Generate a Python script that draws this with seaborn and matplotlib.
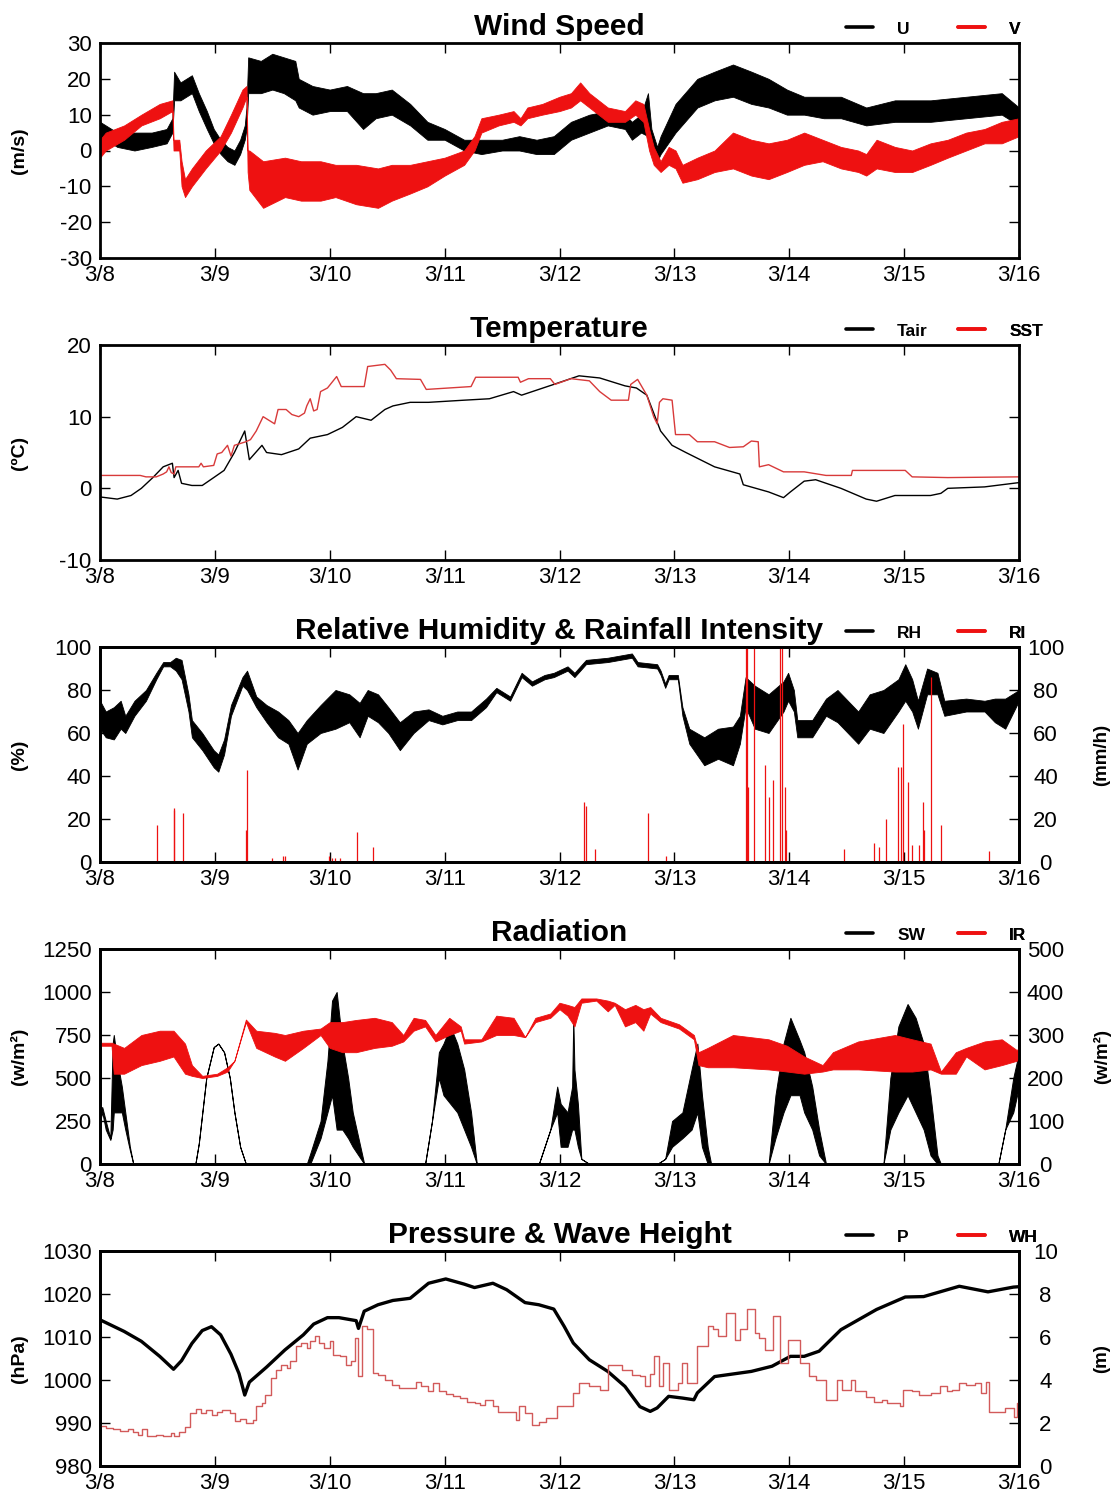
import numpy as np
import matplotlib
matplotlib.use("Agg")
import matplotlib.pyplot as plt
from matplotlib.lines import Line2D
import seaborn as sns

# ---------------- data (time in days since 3/8 00:00) ----------------
day_labels = ["3/8", "3/9", "3/10", "3/11", "3/12", "3/13", "3/14", "3/15", "3/16"]

# Wind speed components: lower / upper envelope of the 1-Hz record (m/s)
U_t = [0, 0.05, 0.15, 0.3, 0.45, 0.58, 0.63, 0.645, 0.7, 0.8,
       0.86, 0.93, 0.99, 1.05, 1.11, 1.17, 1.22, 1.26, 1.275, 1.29,
       1.4, 1.5, 1.6, 1.7, 1.73, 1.85, 2.0, 2.15, 2.29, 2.4,
       2.54, 2.70, 2.85, 3.0, 3.17, 3.32, 3.5, 3.65, 3.8, 3.95,
       4.10, 4.26, 4.42, 4.57, 4.63, 4.71, 4.77, 4.80, 4.85, 4.88,
       5.01, 5.2, 5.35, 5.51, 5.67, 5.82, 5.98, 6.13, 6.3, 6.45,
       6.67, 6.92, 7.23, 7.54, 7.85, 8.0]
U_lo = [2, 3, 1, 0, 1, 2, 5, 14, 14, 16,
        11, 6, 2, -1, -3, -4, -1, 3, 6, 16,
        16, 17, 16, 14, 12, 10, 11, 11, 6, 9,
        10, 7, 3, 3, 0, -1, 0, 0, -1, -1,
        3, 5, 7, 6, 3, 5, 4, 0, -3, -1,
        5, 12, 14, 15, 13, 12, 10, 10, 9, 9,
        7, 8, 8, 9, 10, 7]
U_hi = [8, 7, 5, 5, 5, 6, 9, 22, 19, 21,
        16, 11, 6, 3, 1, 0, 3, 7, 12, 26,
        25, 27, 26, 25, 20, 18, 17, 18, 16, 16,
        17, 13, 8, 6, 3, 3, 3, 4, 3, 4,
        8, 10, 11, 10, 8, 10, 16, 6, 1, 4,
        13, 20, 22, 24, 22, 20, 17, 15, 15, 15,
        12, 14, 14, 15, 16, 12]

V_t = [0, 0.05, 0.21, 0.36, 0.52, 0.63, 0.64, 0.69, 0.71, 0.74,
       0.80, 0.92, 1.05, 1.14, 1.24, 1.275, 1.285, 1.30, 1.42, 1.61,
       1.75, 1.92, 2.05, 2.23, 2.42, 2.54, 2.70, 2.85, 3.0, 3.17,
       3.26, 3.32, 3.47, 3.60, 3.66, 3.72, 3.85, 4.0, 4.10, 4.18,
       4.26, 4.42, 4.57, 4.66, 4.73, 4.78, 4.82, 4.88, 4.95, 5.01,
       5.07, 5.2, 5.35, 5.51, 5.67, 5.82, 5.98, 6.13, 6.29, 6.45,
       6.6, 6.67, 6.76, 6.92, 7.07, 7.23, 7.38, 7.54, 7.70, 7.85,
       8.0]
V_lo = [-2, 0, 3, 7, 9, 11, 0, 0, -10, -13,
        -10, -5, 0, 5, 12, 15, -6, -11, -16, -13,
        -14, -14, -13, -15, -16, -14, -12, -10, -7, -4,
        0, 5, 7, 8, 7, 9, 10, 11, 12, 14,
        12, 8, 8, 10, 8, 0, -4, -6, -4, -5,
        -9, -8, -6, -5, -7, -8, -6, -4, -3, -5,
        -6, -7, -5, -6, -6, -4, -2, 0, 2, 2,
        4]
V_hi = [3, 5, 7, 10, 13, 14, 3, 3, -3, -8,
        -5, 0, 4, 10, 17, 18, 0, 0, -3, -2,
        -3, -3, -4, -4, -5, -4, -4, -3, -2, 0,
        4, 9, 10, 11, 9, 12, 13, 15, 16, 19,
        16, 12, 11, 14, 13, 6, 1, -3, 1, 0,
        -4, -2, 0, 5, 3, 2, 3, 5, 3, 1,
        0, -1, 3, 1, 0, 2, 3, 5, 6, 8,
        9]

# Temperature (deg C)
Tair_t = [0, 0.15, 0.27, 0.36, 0.46, 0.55, 0.63, 0.645, 0.68, 0.71,
          0.80, 0.89, 0.99, 1.08, 1.17, 1.26, 1.28, 1.30, 1.41, 1.45,
          1.58, 1.73, 1.83, 1.98, 2.11, 2.23, 2.36, 2.48, 2.55, 2.70,
          2.86, 3.17, 3.39, 3.6, 3.67, 3.95, 4.17, 4.35, 4.57, 4.67,
          4.76, 4.82, 4.88, 4.98, 5.1, 5.35, 5.57, 5.6, 5.82, 5.95,
          6.01, 6.13, 6.23, 6.45, 6.67, 6.76, 6.92, 7.07, 7.23, 7.32,
          7.38, 7.70, 8.0]
Tair_v = [-1.2, -1.5, -1.0, 0, 1.5, 3, 3.5, 1.5, 2.5, 0.7,
          0.4, 0.4, 1.5, 2.5, 5, 8, 6, 4, 6, 5,
          4.7, 5.5, 7, 7.5, 8.5, 10, 9.5, 11, 11.5, 12,
          12, 12.3, 12.5, 13.5, 13, 14.5, 15.7, 15.4, 14.3, 14,
          13, 10.5, 8, 6, 5, 3, 2, 0.5, -0.5, -1.3,
          -0.5, 1, 1.2, 0, -1.5, -1.8, -1, -1, -1, -0.7,
          0, 0.2, 0.8]

SST_t = [0, 0.35, 0.40, 0.49, 0.55, 0.58, 0.60, 0.62, 0.645, 0.66,
         0.86, 0.88, 0.90, 0.99, 1.02, 1.06, 1.11, 1.14, 1.17, 1.27,
         1.31, 1.36, 1.42, 1.47, 1.52, 1.55, 1.62, 1.67, 1.73, 1.78,
         1.80, 1.83, 1.86, 1.89, 1.92, 1.98, 2.03, 2.06, 2.10, 2.30,
         2.33, 2.48, 2.53, 2.58, 2.79, 2.84, 3.23, 3.27, 3.64, 3.66,
         3.73, 3.92, 3.96, 4.10, 4.26, 4.35, 4.45, 4.60, 4.62, 4.68,
         4.76, 4.82, 4.85, 4.87, 4.90, 4.98, 5.01, 5.13, 5.20, 5.35,
         5.48, 5.60, 5.67, 5.73, 5.74, 5.82, 5.95, 6.13, 6.32, 6.54,
         6.55, 7.01, 7.07, 7.38, 8.0]
SST_v = [1.8, 1.8, 1.6, 1.6, 2.0, 2.3, 3.0, 2.2, 2.0, 3.0,
         3.0, 3.5, 3.0, 3.2, 4.8, 5.0, 6.0, 4.5, 6.0, 6.5,
         6.8, 8.0, 10.0, 9.5, 9.0, 11.0, 11.0, 10.3, 10.0, 10.5,
         11.5, 12.5, 10.8, 11.0, 13.5, 14.0, 15.0, 15.6, 14.2, 14.2,
         17.0, 17.3, 16.5, 15.3, 15.2, 13.8, 14.2, 15.5, 15.5, 14.8,
         15.3, 15.3, 14.5, 15.3, 15.0, 13.5, 12.3, 12.3, 14.5, 15.2,
         13.0, 10.0, 9.0, 12.0, 12.5, 12.3, 7.5, 7.5, 6.5, 6.5,
         5.7, 5.8, 6.6, 6.5, 3.0, 3.3, 2.3, 2.3, 1.8, 1.8,
         2.5, 2.5, 1.6, 1.5, 1.6]

# Relative humidity envelope (%)
RH_t = [0, 0.05, 0.12, 0.18, 0.22, 0.30, 0.40, 0.49, 0.55, 0.61,
        0.66, 0.71, 0.77, 0.80, 0.89, 0.99, 1.03, 1.08, 1.14, 1.24,
        1.28, 1.36, 1.45, 1.55, 1.64, 1.72, 1.80, 1.92, 2.05, 2.17,
        2.26, 2.33, 2.42, 2.51, 2.61, 2.73, 2.86, 2.98, 3.11, 3.23,
        3.36, 3.45, 3.57, 3.67, 3.76, 3.87, 3.95, 4.07, 4.13, 4.23,
        4.42, 4.63, 4.68, 4.85, 4.88, 4.92, 4.95, 5.03, 5.07, 5.13,
        5.26, 5.38, 5.51, 5.57, 5.62, 5.70, 5.82, 5.95, 5.99, 6.04,
        6.07, 6.20, 6.32, 6.42, 6.51, 6.60, 6.70, 6.82, 6.95, 7.01,
        7.07, 7.12, 7.20, 7.29, 7.35, 7.54, 7.70, 7.79, 7.88, 8.0]
RH_lo = [62, 58, 57, 62, 60, 68, 75, 85, 91, 91,
         89, 85, 70, 58, 52, 44, 42, 50, 68, 82,
         80, 72, 65, 58, 55, 43, 55, 60, 62, 65,
         58, 68, 65, 60, 52, 60, 66, 64, 66, 66,
         72, 79, 75, 86, 82, 85, 86, 89, 86, 92,
         93, 95, 91, 90, 87, 81, 85, 85, 68, 55,
         45, 48, 45, 55, 72, 62, 60, 70, 75, 70,
         58, 58, 68, 65, 60, 55, 62, 60, 70, 75,
         70, 62, 78, 78, 68, 70, 70, 65, 62, 75]
RH_hi = [75, 70, 72, 75, 68, 75, 80, 88, 93, 93,
         95, 94, 78, 66, 60, 52, 50, 57, 73, 86,
         89, 77, 73, 70, 66, 60, 66, 73, 80, 78,
         74, 80, 78, 72, 65, 70, 71, 68, 70, 70,
         76, 81, 77, 88, 84, 87, 88, 91, 88, 94,
         95, 97, 93, 92, 89, 83, 87, 87, 72, 62,
         58, 62, 63, 68, 86, 82, 78, 84, 88, 80,
         66, 66, 76, 80, 75, 70, 78, 80, 85, 92,
         85, 75, 90, 88, 75, 76, 75, 76, 76, 80]

# Rainfall intensity events (mm/h)
RI_t = [0.50, 0.64, 0.645, 0.72, 1.27, 1.28, 1.50, 1.59, 1.61, 1.99,
        2.02, 2.05, 2.09, 2.24, 2.38, 4.21, 4.23, 4.31, 4.77, 4.93,
        5.62, 5.63, 5.64, 5.69, 5.79, 5.82, 5.86, 5.92, 5.94, 5.96,
        5.97, 6.48, 6.74, 6.78, 6.84, 6.95, 6.97, 6.99, 7.03, 7.07,
        7.13, 7.16, 7.17, 7.23, 7.32, 7.74]
RI_v = [17, 24, 25, 23, 15, 43, 2, 3, 3, 3,
        2, 2, 2, 14, 7, 28, 26, 6, 23, 3,
        100, 100, 35, 100, 45, 30, 38, 100, 100, 35,
        15, 6, 9, 7, 20, 44, 44, 64, 37, 8,
        8, 28, 15, 86, 17, 5]

# Shortwave radiation envelope (W/m2)
SW_t = [0, 0.02, 0.05, 0.09, 0.11, 0.12, 0.15, 0.19, 0.22, 0.26,
        0.29, 0.83, 0.86, 0.925, 0.99, 1.03, 1.08, 1.13, 1.17, 1.22,
        1.27, 1.80, 1.83, 1.92, 1.98, 2.02, 2.06, 2.11, 2.16, 2.20,
        2.25, 2.30, 2.83, 2.89, 2.95, 2.99, 3.05, 3.11, 3.17, 3.23,
        3.28, 3.82, 3.92, 3.98, 4.01, 4.07, 4.11, 4.12, 4.13, 4.16,
        4.19, 4.26, 4.85, 4.92, 4.98, 5.07, 5.15, 5.20, 5.24, 5.29,
        5.32, 5.82, 5.88, 5.95, 6.01, 6.09, 6.13, 6.20, 6.26, 6.32,
        6.82, 6.88, 6.95, 7.03, 7.10, 7.17, 7.23, 7.29, 7.32, 7.82,
        7.88, 7.95, 8.0]
SW_lo = [250, 300, 200, 140, 200, 300, 300, 300, 200, 80,
         0, 0, 120, 500, 680, 700, 650, 500, 300, 100,
         0, 0, 0, 150, 300, 400, 200, 200, 150, 100,
         50, 0, 0, 250, 500, 400, 350, 300, 200, 100,
         0, 0, 200, 300, 100, 100, 200, 200, 200, 100,
         30, 0, 0, 30, 100, 150, 200, 300, 100, 0,
         0, 0, 150, 300, 400, 400, 300, 200, 50, 0,
         0, 200, 300, 400, 300, 200, 50, 0, 0, 0,
         200, 300, 450]
SW_hi = [330, 330, 250, 150, 700, 750, 600, 450, 300, 100,
         0, 0, 120, 500, 680, 700, 650, 500, 300, 100,
         0, 0, 60, 250, 600, 950, 1000, 700, 500, 300,
         150, 0, 0, 250, 650, 700, 800, 700, 550, 300,
         0, 0, 200, 450, 350, 300, 450, 850, 550, 350,
         30, 0, 0, 30, 250, 300, 550, 700, 400, 100,
         0, 0, 400, 700, 850, 720, 650, 450, 200, 0,
         0, 500, 800, 930, 850, 700, 400, 50, 0, 0,
         200, 500, 650]

# Longwave (IR) radiation envelope (W/m2)
IR_t = [0, 0.10, 0.12, 0.21, 0.36, 0.52, 0.64, 0.74, 0.80, 0.89,
        1.02, 1.11, 1.17, 1.27, 1.36, 1.52, 1.61, 1.77, 1.92, 2.0,
        2.11, 2.23, 2.39, 2.54, 2.64, 2.73, 2.83, 2.92, 3.04, 3.14,
        3.17, 3.32, 3.45, 3.60, 3.70, 3.79, 3.92, 4.0, 4.07, 4.13,
        4.19, 4.32, 4.42, 4.48, 4.57, 4.66, 4.73, 4.79, 4.88, 5.04,
        5.17, 5.21, 5.29, 5.51, 5.82, 5.98, 6.13, 6.29, 6.38, 6.60,
        6.92, 7.07, 7.23, 7.32, 7.45, 7.54, 7.70, 7.85, 7.98, 8.0]
IR_lo = [275, 275, 210, 210, 230, 240, 250, 210, 205, 200,
         205, 215, 240, 330, 270, 250, 240, 270, 300, 270,
         260, 260, 270, 275, 285, 310, 320, 285, 300, 310,
         280, 285, 300, 300, 295, 330, 340, 360, 345, 320,
         375, 380, 355, 370, 320, 330, 310, 350, 330, 315,
         290, 230, 225, 225, 220, 215, 210, 215, 220, 220,
         215, 215, 220, 210, 210, 250, 220, 230, 240, 250]
IR_hi = [282, 282, 280, 270, 300, 310, 310, 280, 230, 205,
         210, 225, 240, 336, 310, 305, 300, 310, 315, 330,
         330, 335, 340, 330, 300, 340, 335, 300, 340, 320,
         290, 290, 345, 340, 295, 340, 350, 375, 370, 365,
         385, 385, 380, 375, 360, 370, 360, 365, 340, 325,
         300, 260, 270, 300, 290, 275, 250, 230, 260, 285,
         300, 290, 280, 215, 260, 270, 285, 290, 265, 270]

# Sea-level pressure (hPa)
P_t = [0, 0.21, 0.36, 0.52, 0.64, 0.71, 0.80, 0.89, 0.97, 1.05,
       1.14, 1.21, 1.26, 1.30, 1.45, 1.61, 1.77, 1.86, 1.98, 2.08,
       2.23, 2.25, 2.30, 2.42, 2.55, 2.70, 2.86, 3.01, 3.17, 3.26,
       3.42, 3.54, 3.70, 3.82, 3.95, 4.04, 4.12, 4.26, 4.42, 4.57,
       4.70, 4.79, 4.85, 4.95, 5.07, 5.17, 5.20, 5.35, 5.67, 5.85,
       6.01, 6.13, 6.26, 6.45, 6.76, 7.01, 7.17, 7.48, 7.73, 7.95,
       8.0]
P_v = [1014, 1011.3, 1009, 1005.5, 1002.5, 1004.5, 1008.5, 1011.5, 1012.4, 1010.5,
       1006, 1001.5, 996.5, 999.5, 1003, 1007, 1010.5, 1013, 1014.5, 1014.5,
       1013.8, 1012, 1016, 1017.5, 1018.5, 1019, 1022.5, 1023.5, 1022.3, 1021.5,
       1022.5, 1021, 1018, 1017.5, 1016.5, 1012.5, 1008.6, 1004.7, 1002, 998.5,
       993.8, 992.7, 993.5, 996.2, 995.8, 995.4, 997, 1000.8, 1002, 1003.2,
       1005.5, 1005.5, 1006.7, 1011.7, 1016.4, 1019.3, 1019.4, 1021.8, 1020.5, 1021.6,
       1021.7]

# Significant wave height (m), step record
WH_t = [0.0, 0.053, 0.115, 0.178, 0.24, 0.287, 0.333, 0.364, 0.411, 0.489,
        0.551, 0.614, 0.645, 0.692, 0.738, 0.785, 0.832, 0.879, 0.925, 0.972,
        1.019, 1.065, 1.128, 1.174, 1.221, 1.268, 1.330, 1.361, 1.408, 1.439,
        1.486, 1.533, 1.579, 1.626, 1.657, 1.704, 1.751, 1.798, 1.829, 1.875,
        1.907, 1.953, 2.0, 2.031, 2.093, 2.140, 2.187, 2.218, 2.249, 2.280,
        2.327, 2.374, 2.421, 2.483, 2.545, 2.607, 2.748, 2.794, 2.857, 2.903,
        2.950, 3.012, 3.075, 3.137, 3.199, 3.262, 3.308, 3.355, 3.417, 3.464,
        3.542, 3.620, 3.651, 3.698, 3.760, 3.822, 3.885, 3.978, 4.12, 4.17,
        4.26, 4.35, 4.42, 4.54, 4.63, 4.70, 4.74, 4.79, 4.82, 4.87,
        4.90, 4.95, 5.03, 5.07, 5.11, 5.20, 5.29, 5.34, 5.38, 5.45,
        5.53, 5.57, 5.63, 5.70, 5.74, 5.79, 5.86, 5.92, 5.99, 6.09,
        6.17, 6.23, 6.32, 6.42, 6.46, 6.54, 6.57, 6.67, 6.74, 6.81,
        6.85, 6.96, 6.99, 7.07, 7.13, 7.23, 7.31, 7.37, 7.42, 7.48,
        7.54, 7.62, 7.67, 7.71, 7.74, 7.88, 7.96, 7.98, 8.0]
WH_v = [1.84, 1.76, 1.7, 1.65, 1.72, 1.56, 1.45, 1.7, 1.4, 1.45,
        1.4, 1.52, 1.4, 1.6, 1.8, 2.46, 2.64, 2.46, 2.6, 2.38,
        2.49, 2.6, 2.46, 2.1, 2.18, 2.0, 2.15, 2.77, 2.95, 3.3,
        4.1, 4.48, 4.7, 4.56, 4.87, 5.57, 5.72, 5.5, 5.8, 6.03,
        5.72, 5.5, 5.8, 5.18, 5.1, 4.7, 4.87, 5.96, 4.17, 6.5,
        6.35, 4.32, 4.25, 4.0, 3.78, 3.62, 3.89, 3.7, 3.47, 3.86,
        3.47, 3.36, 3.27, 3.16, 3.0, 2.92, 2.85, 3.08, 2.77, 2.49,
        2.53, 2.15, 2.77, 2.46, 1.91, 2.05, 2.22, 2.77, 3.4, 3.86,
        3.7, 3.55, 4.7, 4.48, 4.25, 4.17, 3.7, 4.3, 5.1, 3.7,
        4.79, 3.55, 3.86, 4.79, 3.86, 5.57, 6.5, 6.35, 6.03, 7.1,
        5.88, 6.35, 7.28, 6.2, 5.96, 5.4, 6.97, 4.79, 5.88, 4.79,
        4.17, 4.0, 3.08, 4.0, 3.55, 4.0, 3.47, 3.23, 3.0, 3.08,
        2.92, 2.77, 3.55, 3.47, 3.3, 3.4, 3.7, 3.47, 3.55, 3.86,
        3.78, 3.86, 3.39, 3.93, 2.53, 2.69, 2.3, 2.92, 2.92]

# ---------------- styling ----------------
sns.set_theme(style="ticks")
plt.rcParams["font.family"] = ["Liberation Sans", "DejaVu Sans"]
plt.rcParams.update({
    "axes.edgecolor": "black",
    "xtick.color": "black",
    "ytick.color": "black",
    "text.color": "black",
    "axes.labelcolor": "black",
    "axes.unicode_minus": False,
})

BLACK = "black"
RED = "#ee1111"
SST_RED = "#d83a3a"
WH_RED = "#d25a5a"

W, H = 1115, 1497
LEFT, RIGHT = 100, 1019
TOPS = [43, 345, 647, 949, 1251]
AXH = 215

fig = plt.figure(figsize=(W / 100, H / 100), dpi=100)
fig.patch.set_facecolor("white")


def make_axes(top):
    ax = fig.add_axes([LEFT / W, 1 - (top + AXH) / H, (RIGHT - LEFT) / W, AXH / H])
    ax.set_xlim(0, 8)
    ax.set_xticks(range(9))
    ax.set_xticklabels(day_labels)
    ax.tick_params(axis="both", direction="in", length=7, width=1.0,
                   top=True, right=True, labelsize=16, pad=5)
    ax.tick_params(axis="y", pad=6)
    for sp in ax.spines.values():
        sp.set_linewidth(2)
    return ax


def make_twin(ax, ylim, ticks, label):
    ax.tick_params(axis="y", right=False)
    ax2 = ax.twinx()
    ax2.set_ylim(*ylim)
    ax2.set_yticks(ticks)
    ax2.tick_params(axis="y", direction="in", length=7, width=1.0,
                    labelsize=16, pad=19)
    for lab in ax2.get_yticklabels():
        lab.set_horizontalalignment("center")
    for sp in ax2.spines.values():
        sp.set_linewidth(2)
    ax2.set_ylabel(label, fontsize=13.5, fontweight="bold")
    ax2.yaxis.set_label_coords(1.0805, 0.5)
    return ax2


def header(ax, title, ylabel, labels):
    ax.set_title(title, fontsize=21.5, fontweight="bold", pad=6)
    ax.set_ylabel(ylabel, fontsize=14, fontweight="bold")
    ax.yaxis.set_label_coords(-0.078, 0.5)
    for lab, col, xpx in zip(labels, (BLACK, RED), (846, 958)):
        handle = Line2D([], [], color=col, lw=2.6)
        leg = ax.legend([handle], [lab], loc="lower left",
                        bbox_to_anchor=((xpx - LEFT) / (RIGHT - LEFT), 1.03),
                        frameon=False, borderpad=0, borderaxespad=0,
                        handlelength=1.55, handletextpad=1.4,
                        prop={"weight": "bold", "size": 12.5})
        ax.add_artist(leg)


# ---- Wind speed ----
ax1 = make_axes(TOPS[0])
ax1.fill_between(U_t, U_lo, U_hi, color=BLACK, lw=0.6)
ax1.fill_between(V_t, V_lo, V_hi, color=RED, lw=0.6)
ax1.set_ylim(-30, 30)
ax1.set_yticks(range(-30, 31, 10))
header(ax1, "Wind Speed", "(m/s)", ["U", "V"])

# ---- Temperature ----
ax2 = make_axes(TOPS[1])
sns.lineplot(x=Tair_t, y=Tair_v, ax=ax2, color=BLACK, lw=1.0, estimator=None)
sns.lineplot(x=SST_t, y=SST_v, ax=ax2, color=SST_RED, lw=1.0, estimator=None)
ax2.set_ylim(-10, 20)
ax2.set_yticks(range(-10, 21, 10))
header(ax2, "Temperature", "(\u00baC)", ["Tair", "SST"])

# ---- Relative humidity & rainfall ----
ax3 = make_axes(TOPS[2])
ax3.fill_between(RH_t, RH_lo, RH_hi, color=BLACK, lw=0.6)
ax3.set_ylim(0, 100)
ax3.set_yticks(range(0, 101, 20))
ax3r = make_twin(ax3, (0, 100), range(0, 101, 20), "(mm/h)")
ax3r.vlines(RI_t, 0, RI_v, color=RED, lw=0.9)
header(ax3, "Relative Humidity & Rainfall Intensity", "(%)", ["RH", "RI"])

# ---- Radiation ----
ax4 = make_axes(TOPS[3])
ax4.fill_between(SW_t, SW_lo, SW_hi, color=BLACK, lw=0.7)
ax4.set_ylim(0, 1250)
ax4.set_yticks(range(0, 1251, 250))
ax4r = make_twin(ax4, (0, 500), range(0, 501, 100), "(w/m\u00b2)")
ax4r.fill_between(IR_t, IR_lo, IR_hi, color=RED, lw=0.6)
header(ax4, "Radiation", "(w/m\u00b2)", ["SW", "IR"])

# ---- Pressure & wave height ----
ax5 = make_axes(TOPS[4])
ax5r = make_twin(ax5, (0, 10), range(0, 11, 2), "(m)")
sns.lineplot(x=WH_t, y=WH_v, ax=ax5r, color=WH_RED, lw=1.0,
             drawstyle="steps-post", estimator=None)
sns.lineplot(x=P_t, y=P_v, ax=ax5, color=BLACK, lw=2.4, estimator=None)
ax5.set_ylim(980, 1030)
ax5.set_yticks(range(980, 1031, 10))
header(ax5, "Pressure & Wave Height", "(hPa)", ["P", "WH"])

for a in (ax1, ax2, ax3, ax4, ax5, ax3r, ax4r, ax5r):
    a.set_xlim(0, 8)
    a.set_xlabel("")

fig.savefig("out.png", dpi=100, facecolor="white")
